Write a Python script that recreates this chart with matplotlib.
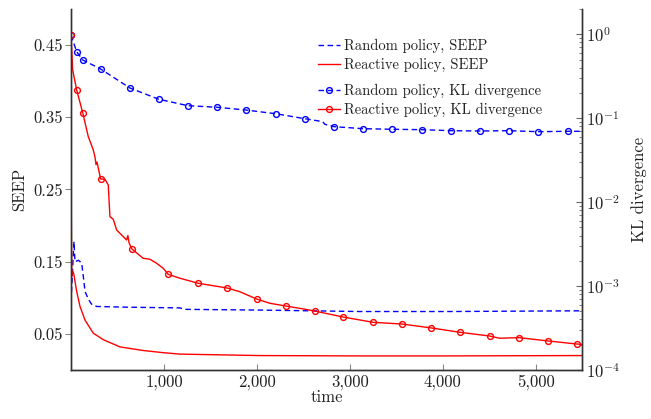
#!/usr/bin/env python3
"""SEEP and KL divergence over time for random vs reactive policy (two y axes)."""
import matplotlib
matplotlib.use('Agg')
import matplotlib.pyplot as plt
from matplotlib.ticker import FuncFormatter, LogLocator, NullFormatter

plt.rcParams['font.family'] = 'cmr10'
plt.rcParams['mathtext.fontset'] = 'cm'
plt.rcParams['axes.unicode_minus'] = False
plt.rcParams['axes.formatter.use_mathtext'] = True

# SEEP (left axis, linear)
random_seep_t = [0, 32, 43, 80, 115, 132, 151, 186, 223, 276, 600, 1172, 1226,
                 2032, 3108, 4075, 5495]
random_seep_v = [0.095, 0.178, 0.150, 0.152, 0.148, 0.130, 0.109, 0.098, 0.091,
                 0.088, 0.087, 0.086, 0.084, 0.083, 0.081, 0.081, 0.082]
reactive_seep_t = [0, 8, 18, 30, 61, 97, 151, 240, 347, 527, 777, 992, 1172,
                   1600, 2032, 3108, 4000, 5495]
reactive_seep_v = [0.27, 0.130, 0.137, 0.133, 0.109, 0.088, 0.069, 0.051, 0.042,
                   0.032, 0.027, 0.024, 0.022, 0.021, 0.020, 0.0195, 0.0195, 0.020]

# KL divergence (right axis, log)
random_kl_t = [0, 61, 126, 319, 634, 946, 1258, 1570, 1887, 2204, 2516, 2710,
               2731, 2831, 3143, 3459, 3774, 4086, 4398, 4710, 5025, 5344, 5495]
random_kl_v = [0.98, 0.62, 0.494, 0.386, 0.229, 0.168, 0.141, 0.135, 0.125, 0.113,
               0.0987, 0.091, 0.0847, 0.0793, 0.075, 0.0738, 0.0730, 0.0710,
               0.0704, 0.0710, 0.0691, 0.0698, 0.0698]
random_kl_marks = [0, 61, 126, 319, 634, 946, 1258, 1570, 1887, 2204, 2516, 2831,
                   3143, 3459, 3774, 4086, 4398, 4710, 5025, 5344]

reactive_kl_t = [0, 18, 61, 126, 186, 240, 258, 269, 280, 319, 366, 401, 419, 455,
                 491, 509, 598, 612, 624, 652, 777, 849, 921, 992, 1046, 1172,
                 1369, 1681, 1817, 1997, 2140, 2310, 2462, 2621, 2928, 3251, 3562,
                 3878, 4190, 4505, 4613, 4820, 5132, 5444, 5495]
reactive_kl_v = [0.98, 0.376, 0.217, 0.1164, 0.0603, 0.0418, 0.0345, 0.0280, 0.030,
                 0.01888, 0.0187, 0.0160, 0.00671, 0.00625, 0.00466, 0.00445,
                 0.00354, 0.00400, 0.00330, 0.00279, 0.00214, 0.00209, 0.00187,
                 0.00163, 0.00138, 0.00124, 0.00108, 0.000948, 0.000857, 0.000701,
                 0.000624, 0.000579, 0.000543, 0.000505, 0.000428, 0.000370,
                 0.000353, 0.000317, 0.000281, 0.000254, 0.000239, 0.000243,
                 0.000222, 0.000204, 0.000202]
reactive_kl_marks = [0, 61, 126, 319, 652, 1046, 1369, 1681, 1997, 2310, 2621,
                     2928, 3251, 3562, 3878, 4190, 4505, 4820, 5132, 5444]

seep_ticks = [0.05, 0.15, 0.25, 0.35, 0.45]
time_ticks = [1000, 2000, 3000, 4000, 5000]

BLUE = '#0000ff'
RED = '#ff0000'
TXT = '#222222'
FS = 12


def main():
    fig = plt.figure(figsize=(6.51, 4.19), dpi=100)
    ax = fig.add_axes([71 / 651, 49 / 419, 511 / 651, 361 / 419])
    ax2 = ax.twinx()

    dash = (0, (4, 2.5))
    l1, = ax.plot(random_seep_t, random_seep_v, color=BLUE, lw=1.0, linestyle=dash,
                  label='Random policy, SEEP')
    l2, = ax.plot(reactive_seep_t, reactive_seep_v, color=RED, lw=1.0,
                  label='Reactive policy, SEEP')

    mk_r = [random_kl_t.index(m) for m in random_kl_marks]
    mk_x = [reactive_kl_t.index(m) for m in reactive_kl_marks]
    l3, = ax2.plot(random_kl_t, random_kl_v, color=BLUE, lw=1.0, linestyle=dash,
                   marker='o', ms=4.2, mfc='none', mew=1.0, markevery=mk_r,
                   label='Random policy, KL divergence')
    l4, = ax2.plot(reactive_kl_t, reactive_kl_v, color=RED, lw=1.0,
                   marker='o', ms=4.2, mfc='none', mew=1.0, markevery=mk_x,
                   label='Reactive policy, KL divergence')

    ax.set_xlim(0, 5500)
    ax.set_ylim(0, 0.5)
    ax2.set_yscale('log')
    ax2.set_ylim(1e-4, 2.0)

    ax.set_xticks(time_ticks)
    ax.xaxis.set_major_formatter(FuncFormatter(lambda v, p: f'{v:,.0f}'))
    ax.set_yticks(seep_ticks)
    ax.set_yticklabels([f'{v:.2f}' for v in seep_ticks])
    ax2.yaxis.set_major_locator(LogLocator(base=10, numticks=10))
    ax2.yaxis.set_minor_locator(LogLocator(base=10, subs=range(2, 10), numticks=10))
    ax2.yaxis.set_minor_formatter(NullFormatter())

    ax.tick_params(axis='y', direction='out', length=4, color='#888888',
                   labelsize=FS, labelcolor=TXT, pad=2)
    ax.tick_params(axis='x', direction='in', length=4, color='#888888',
                   labelsize=FS, labelcolor=TXT, pad=3)
    ax2.tick_params(axis='y', which='major', direction='in', length=4,
                    color='#666666', labelsize=FS, labelcolor=TXT, pad=3)
    ax2.tick_params(axis='y', which='minor', direction='in', length=2.5,
                    color='#666666')

    for a in (ax, ax2):
        a.spines['top'].set_visible(False)
        for sp in a.spines.values():
            sp.set_color('#333333')
            sp.set_linewidth(1.0)

    ax.set_xlabel('time', fontsize=FS, color=TXT, labelpad=0)
    ax.set_ylabel('SEEP', fontsize=FS, color=TXT, labelpad=4)
    ax2.set_ylabel('KL divergence', fontsize=FS, color=TXT, labelpad=8)

    leg_kw = dict(loc='upper left', frameon=False, fontsize=10.5, handlelength=1.5,
                  handletextpad=0.3, labelspacing=0.3, borderpad=0,
                  borderaxespad=0)
    leg1 = ax.legend(handles=[l1, l2], bbox_to_anchor=(318 / 651, 1 - 39 / 419),
                     bbox_transform=fig.transFigure, **leg_kw)
    for t in leg1.get_texts():
        t.set_color(TXT)
    leg2 = ax2.legend(handles=[l3, l4], bbox_to_anchor=(318 / 651, 1 - 84 / 419),
                      bbox_transform=fig.transFigure, **leg_kw)
    for t in leg2.get_texts():
        t.set_color(TXT)

    fig.savefig('out.png', dpi=100)
    plt.close(fig)


if __name__ == '__main__':
    main()
